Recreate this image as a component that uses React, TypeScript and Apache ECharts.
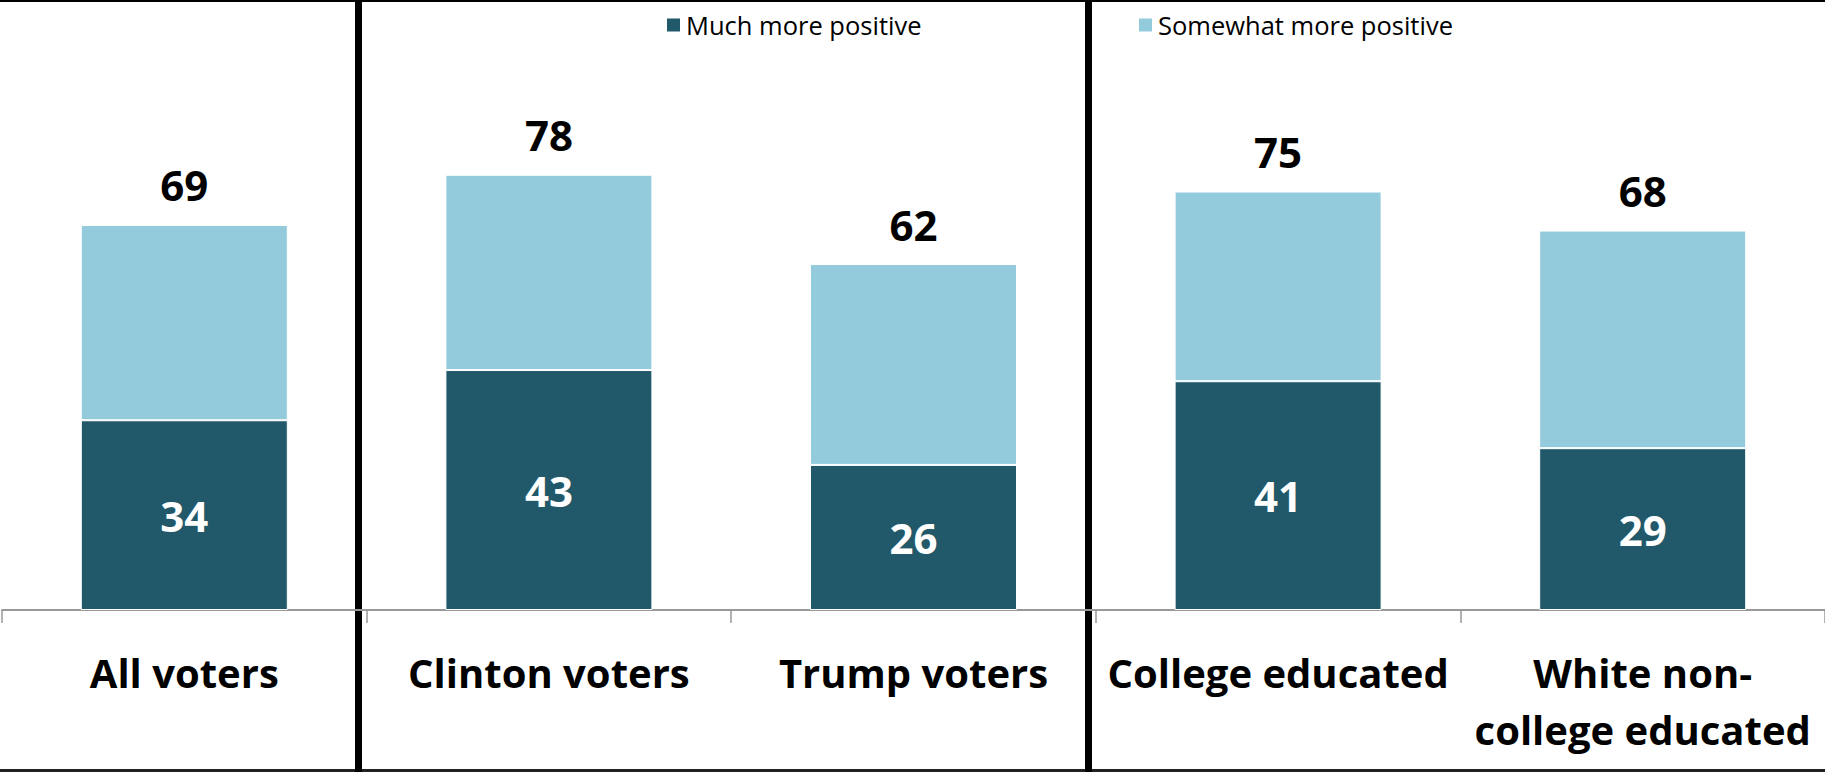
import React, { useEffect, useRef } from "react";
import * as echarts from "echarts";

const categories = ["All voters", "Clinton voters", "Trump voters", "College educated", "White non-\ncollege educated"];
const muchMorePositive = [34, 43, 26, 41, 29];
const somewhatMorePositive = [35, 35, 36, 34, 39];
const totals = [69, 78, 62, 75, 68];
const seriesNames = ["Much more positive", "Somewhat more positive"];

const DARK = "#22596a";
const LIGHT = "#94cbdc";
const FONT = "Open Sans";

export default function App() {
  const ref = useRef<HTMLDivElement>(null);
  useEffect(() => {
    if (!ref.current) return;
    const chart = echarts.init(ref.current, null, { renderer: "svg" });
    const legendCommon = {
      top: 12,
      itemWidth: 15,
      itemHeight: 15,
      icon: "rect",
      textStyle: { fontFamily: FONT, fontSize: 25.5, color: "#000" },
      padding: 0,
    };
    chart.setOption({
      animation: false,
      backgroundColor: "#fff",
      legend: [
        { ...legendCommon, left: 665, data: [seriesNames[0]] },
        { ...legendCommon, left: 1137, data: [seriesNames[1]] },
      ],
      grid: { left: 2, right: 0, top: 52, bottom: 162, containLabel: false },
      xAxis: {
        type: "category",
        data: categories,
        axisLine: { lineStyle: { color: "#999", width: 2 } },
        axisTick: { show: true, length: 13, lineStyle: { color: "#999", width: 1.5 } },
        axisLabel: {
          interval: 0,
          margin: 34,
          fontFamily: FONT,
          fontSize: 40,
          fontWeight: "bold",
          color: "#000",
          lineHeight: 57,
        },
      },
      yAxis: { type: "value", min: 0, max: 100, show: false, splitLine: { show: false } },
      series: [
        {
          name: seriesNames[0],
          type: "bar",
          stack: "total",
          data: muchMorePositive,
          barWidth: 207,
          itemStyle: { color: DARK, borderColor: "#fff", borderWidth: 1 },
          label: {
            show: true,
            position: "inside",
            color: "#fff",
            fontFamily: FONT,
            fontSize: 42,
            fontWeight: "bold",
          },
        },
        {
          name: seriesNames[1],
          type: "bar",
          stack: "total",
          data: somewhatMorePositive,
          barWidth: 207,
          itemStyle: { color: LIGHT, borderColor: "#fff", borderWidth: 1 },
          label: {
            show: true,
            position: "top",
            distance: 19,
            color: "#000",
            fontFamily: FONT,
            fontSize: 42,
            fontWeight: "bold",
            formatter: (p: any) => String(totals[p.dataIndex]),
          },
        },
      ],
      graphic: [
        { type: "rect", shape: { x: 0, y: 0, width: 1825, height: 2 }, style: { fill: "#000" } },
        { type: "rect", shape: { x: 0, y: 769, width: 1825, height: 3 }, style: { fill: "#222" } },
        { type: "rect", shape: { x: 355, y: 0, width: 7, height: 772 }, style: { fill: "#000" } },
        { type: "rect", shape: { x: 1085, y: 0, width: 7, height: 772 }, style: { fill: "#000" } },
      ],
    });
    return () => chart.dispose();
  }, []);
  return (
    <div
      ref={ref}
      style={{ position: "absolute", left: 0, top: 0, width: 1825, height: 772 }}
    />
  );
}
